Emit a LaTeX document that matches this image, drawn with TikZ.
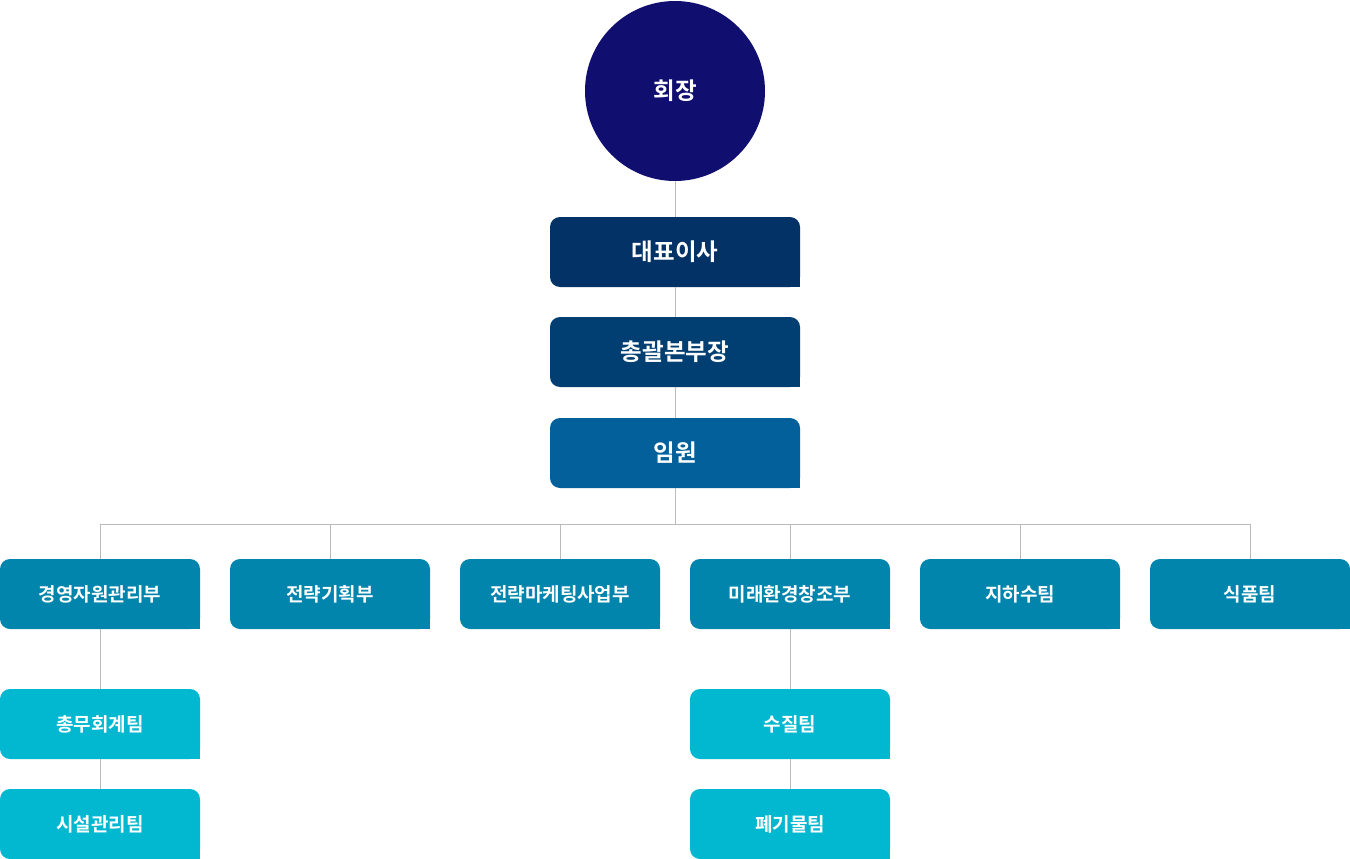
\documentclass[tikz,border=0pt]{standalone}
\usepackage{fontspec}
\setmainfont{Noto Sans CJK KR}[BoldFont={Noto Sans CJK KR Bold}]
\usetikzlibrary{positioning}

\definecolor{chair}{HTML}{100E6F}
\definecolor{ceo}{HTML}{023266}
\definecolor{gm}{HTML}{013F72}
\definecolor{exec}{HTML}{04609A}
\definecolor{dept}{HTML}{0285AC}
\definecolor{team}{HTML}{02B8D0}
\definecolor{wire}{HTML}{BBBBBB}

\begin{document}
\begin{tikzpicture}[
  x=1pt, y=-1pt,
  unit/.style={fill=#1, rounded corners=10pt, minimum width=250pt, minimum height=70pt, inner sep=0pt, text=white, font=\fontsize{23.5}{26}\selectfont\bfseries},
  sub/.style={unit=#1, minimum width=200pt, font=\fontsize{19}{22}\selectfont\bfseries},
  line/.style={draw=wire, line width=1pt},
]
\useasboundingbox (0,0) rectangle (1350,859);

% Top
\node[circle, fill=chair, minimum size=180pt, inner sep=0pt, text=white, font=\fontsize{23.5}{26}\selectfont\bfseries] (chair) at (675,91) {회장};
\node[unit=ceo] (ceo) at (675,252) {대표이사};
\node[unit=gm] (gm) at (675,352) {총괄본부장};
\node[unit=exec] (exec) at (675,453) {임원};

% Departments
\node[sub=dept] (mgmt) at (100,594) {경영자원관리부};
\node[sub=dept] (plan) at (330,594) {전략기획부};
\node[sub=dept] (mkt) at (560,594) {전략마케팅사업부};
\node[sub=dept] (env) at (790,594) {미래환경창조부};
\node[sub=dept] (water) at (1020,594) {지하수팀};
\node[sub=dept] (food) at (1250,594) {식품팀};

% Teams
\node[sub=team] (acct) at (100,724) {총무회계팀};
\node[sub=team] (fac) at (100,824) {시설관리팀};
\node[sub=team] (qual) at (790,724) {수질팀};
\node[sub=team] (waste) at (790,824) {폐기물팀};

% square bottom right corners
\foreach \n/\c in {ceo/ceo, gm/gm, exec/exec, mgmt/dept, plan/dept, mkt/dept, env/dept, water/dept, food/dept, acct/team, fac/team, qual/team, waste/team}
  \fill[\c] (\n.south east) rectangle ++(-12,-12);

% Lines
\coordinate (bus) at (675,524);
\draw[line] (chair) -- (ceo);
\draw[line] (ceo) -- (gm);
\draw[line] (gm) -- (exec);
\draw[line] (exec) -- (bus);
\foreach \n in {mgmt, plan, mkt, env, water, food}
  \draw[line] (bus) -| (\n.north);
\draw[line] (mgmt) -- (acct);
\draw[line] (acct) -- (fac);
\draw[line] (env) -- (qual);
\draw[line] (qual) -- (waste);
\end{tikzpicture}
\end{document}
